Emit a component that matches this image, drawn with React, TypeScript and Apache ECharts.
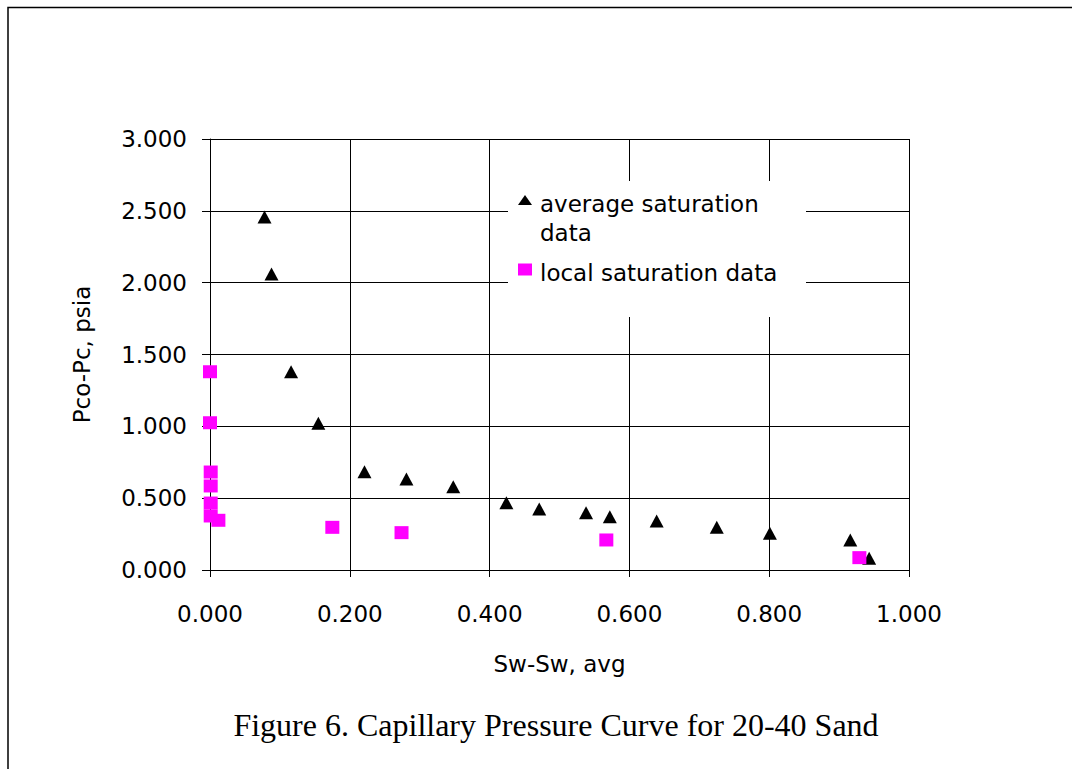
import React, { useEffect, useRef } from "react";
import * as echarts from "echarts";

const avgX = [0.078, 0.088, 0.116, 0.155, 0.221, 0.281, 0.348, 0.424, 0.471, 0.538, 0.572, 0.639, 0.725, 0.801, 0.916, 0.943];
const avgY = [2.457, 2.06, 1.38, 1.021, 0.684, 0.633, 0.58, 0.468, 0.425, 0.399, 0.371, 0.341, 0.297, 0.255, 0.209, 0.081];
const localX = [0.0, 0.0, 0.001, 0.001, 0.001, 0.001, 0.012, 0.175, 0.274, 0.567, 0.929];
const localY = [1.38, 1.025, 0.682, 0.585, 0.466, 0.376, 0.346, 0.297, 0.26, 0.209, 0.086];

const avgName = "average saturation data";
const localName = "local saturation data";
const xTitle = "Sw-Sw, avg";
const yTitle = "Pco-Pc, psia";
const caption = "Figure 6. Capillary Pressure Curve for 20-40 Sand";

const SANS = "DejaVu Sans";

export default function App() {
  const ref = useRef<HTMLDivElement>(null);
  useEffect(() => {
    if (!ref.current) return;
    const chart = echarts.init(ref.current, null, { renderer: "svg" });
    const avgData = avgX.map((x, i) => [x, avgY[i]]);
    const localData = localX.map((x, i) => [x, localY[i]]);
    chart.setOption({
      animation: false,
      backgroundColor: "#fff",
      grid: { left: 210, top: 139, right: 163, bottom: 199, containLabel: false },
      xAxis: {
        type: "value",
        min: 0,
        max: 1,
        interval: 0.2,
        name: xTitle,
        nameLocation: "middle",
        nameGap: 82,
        nameTextStyle: { fontFamily: SANS, fontSize: 23, color: "#000" },
        axisLine: { show: true, onZero: false, lineStyle: { color: "#000", width: 1 } },
        axisTick: { show: true, inside: false, length: 7, lineStyle: { color: "#000" } },
        axisLabel: {
          margin: 32,
          fontFamily: SANS,
          fontSize: 23,
          color: "#000",
          formatter: (v: number) => v.toFixed(3),
        },
        splitLine: { show: true, lineStyle: { color: "#000", width: 1 } },
      },
      yAxis: {
        type: "value",
        min: 0,
        max: 3,
        interval: 0.5,
        name: yTitle,
        nameLocation: "middle",
        nameGap: 117,
        nameTextStyle: { fontFamily: SANS, fontSize: 23, color: "#000" },
        axisLine: { show: true, onZero: false, lineStyle: { color: "#000", width: 1 } },
        axisTick: { show: true, inside: false, length: 8, lineStyle: { color: "#000" } },
        axisLabel: {
          margin: 23,
          fontFamily: SANS,
          fontSize: 23,
          color: "#000",
          formatter: (v: number) => v.toFixed(3),
        },
        splitLine: { show: true, lineStyle: { color: "#000", width: 1 } },
      },
      legend: [
        {
          data: [avgName],
          left: 518,
          top: 166,
          padding: 0,
          orient: "vertical",
          itemWidth: 14,
          itemHeight: 10,
          selectedMode: false,
          formatter: () => "{s| }\n{a|average saturation}\n{a|data}",
          textStyle: {
            fontFamily: SANS,
            fontSize: 23,
            color: "#000",
            padding: [0, 0, 0, 3],
            rich: {
              s: { fontFamily: SANS, fontSize: 10, lineHeight: 36 },
              a: { fontFamily: SANS, fontSize: 23, color: "#000", lineHeight: 29 },
            },
          },
          z: 5,
        },
        {
          data: [localName],
          left: 518,
          top: 252,
          padding: 0,
          orient: "vertical",
          itemWidth: 14,
          itemHeight: 12,
          selectedMode: false,
          formatter: (n: string) => "{s| }\n{a|" + n + "}",
          textStyle: {
            fontFamily: SANS,
            fontSize: 23,
            color: "#000",
            padding: [0, 0, 0, 3],
            rich: {
              s: { fontFamily: SANS, fontSize: 6, lineHeight: 7 },
              a: { fontFamily: SANS, fontSize: 23, color: "#000", lineHeight: 29 },
            },
          },
          z: 5,
        },
      ],
      graphic: [
        {
          type: "rect",
          z: 3,
          shape: { x: 508, y: 181, width: 298, height: 136 },
          style: { fill: "#fff" },
        },
        {
          type: "polyline",
          z: 3,
          shape: { points: [[8, 800], [8, 7.5], [1100, 7.5]] },
          style: { stroke: "#000", lineWidth: 1.5, fill: null },
        },
        {
          type: "text",
          z: 3,
          x: 556,
          y: 725,
          style: {
            text: caption,
            fontFamily: "Liberation Serif",
            fontSize: 32,
            fill: "#000",
            align: "center",
            verticalAlign: "middle",
          },
        },
      ],
      series: [
        {
          name: avgName,
          type: "scatter",
          symbol: "triangle",
          symbolSize: [14, 13],
          itemStyle: { color: "#000", opacity: 1 },
          data: avgData,
          z: 2,
        },
        {
          name: localName,
          type: "scatter",
          symbol: "rect",
          symbolSize: [14, 13],
          itemStyle: { color: "#FF00FF", opacity: 1 },
          data: localData,
          z: 2,
        },
      ],
    });
    return () => chart.dispose();
  }, []);
  return (
    <div
      ref={ref}
      style={{ position: "absolute", left: 0, top: 0, width: 1072, height: 769 }}
    />
  );
}
